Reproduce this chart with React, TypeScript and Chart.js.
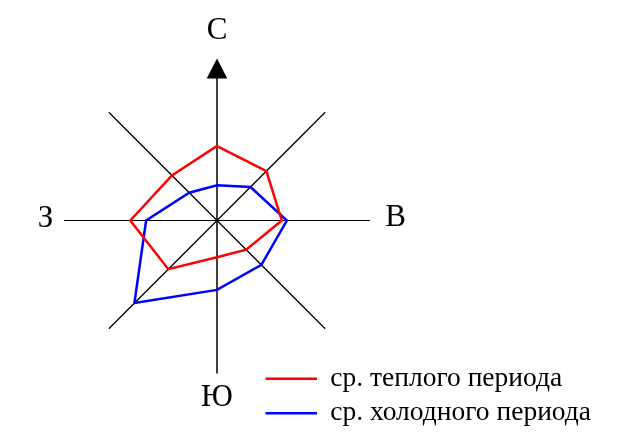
import React, { useEffect, useRef } from "react";
import { Chart, registerables } from "chart.js";

Chart.register(...registerables);

const directions = ["С", "СВ", "В", "ЮВ", "Ю", "ЮЗ", "З", "СЗ"];
const shownDirections = ["С", "В", "Ю", "З"];
const warmValues = [14.6, 13.7, 12.7, 8.1, 7.2, 13.5, 17.0, 12.5];
const coldValues = [6.9, 9.3, 13.7, 12.3, 13.6, 22.9, 13.9, 7.7];
const seriesNames = ["ср. теплого периода", "ср. холодного периода"];
const seriesColors = ["#ff0000", "#0000ff"];
const scaleMax = 30;

// label offsets relative to the centre (text baseline positions)
const labelOffsets: Record<string, [number, number]> = {
  "С": [0, -182],
  "В": [178.5, 5.7],
  "Ю": [0, 185],
  "З": [-171.4, 6],
};

const decorPlugin = {
  id: "decor",
  beforeDraw(chart: any) {
    chart.ctx.save();
    chart.ctx.translate(0, 0.5);
  },
  afterDraw(chart: any) {
    const ctx = chart.ctx;
    const scale = chart.scales.r;
    const xc = scale.xCenter;
    const yc = scale.yCenter;
    const R = scale.getDistanceFromCenterForValue(scaleMax);
    ctx.save();
    // arrow on north axis
    const tip = scale.getPointPosition(0, R + 9);
    const base = scale.getPointPosition(0, R - 11);
    ctx.fillStyle = "#000";
    ctx.beginPath();
    ctx.moveTo(tip.x, tip.y);
    ctx.lineTo(base.x - 10.3, base.y);
    ctx.lineTo(base.x + 10.3, base.y);
    ctx.closePath();
    ctx.fill();
    // direction labels
    ctx.font = "31px 'Liberation Serif', 'Times New Roman', serif";
    ctx.textAlign = "center";
    ctx.textBaseline = "alphabetic";
    ctx.fillStyle = "#000";
    chart.data.labels.forEach((lab: string) => {
      if (!shownDirections.includes(lab)) return;
      const off = labelOffsets[lab];
      ctx.fillText(lab, xc + off[0], yc + off[1]);
    });
    // legend
    ctx.font = "27.5px 'Liberation Serif', 'Times New Roman', serif";
    ctx.textAlign = "left";
    chart.data.datasets.forEach((ds: any, i: number) => {
      const ly = yc + 158.3 + i * 34.4;
      ctx.strokeStyle = ds.borderColor;
      ctx.lineWidth = 2.5;
      ctx.beginPath();
      ctx.moveTo(xc + 48.5, ly);
      ctx.lineTo(xc + 100, ly);
      ctx.stroke();
      ctx.fillStyle = "#000";
      ctx.fillText(ds.label, xc + 113.3, ly + 6.7);
    });
    ctx.restore();
    ctx.restore();
  },
};

export default function App() {
  const ref = useRef<HTMLCanvasElement>(null);
  useEffect(() => {
    if (!ref.current) return;
    const chart = new Chart(ref.current, {
      type: "radar",
      data: {
        labels: directions,
        datasets: [
          {
            label: seriesNames[0],
            data: warmValues,
            borderColor: seriesColors[0],
            backgroundColor: "transparent",
            borderWidth: 2.5,
            pointRadius: 0,
            fill: false,
            tension: 0,
          },
          {
            label: seriesNames[1],
            data: coldValues,
            borderColor: seriesColors[1],
            backgroundColor: "transparent",
            borderWidth: 2.5,
            pointRadius: 0,
            fill: false,
            tension: 0,
          },
        ],
      },
      options: {
        responsive: false,
        animation: false,
        layout: { padding: { left: 64, right: 274, top: 67, bottom: 64 } },
        plugins: { legend: { display: false }, tooltip: { enabled: false } },
        scales: {
          r: {
            min: 0,
            max: scaleMax,
            ticks: { display: false },
            grid: { display: false },
            pointLabels: { display: false },
            angleLines: {
              display: true,
              color: "#000",
              lineWidth: (c: any) => (c.index % 4 === 0 ? 1.5 : c.index % 2 === 0 ? 1 : 1.3),
            },
          },
        },
      },
      plugins: [decorPlugin],
    });
    return () => chart.destroy();
  }, []);
  return (
    <div style={{ position: "fixed", left: 0, top: 0, width: 644, height: 437, background: "#fff" }}>
      <canvas ref={ref} width={644} height={437} style={{ display: "block" }} />
    </div>
  );
}
